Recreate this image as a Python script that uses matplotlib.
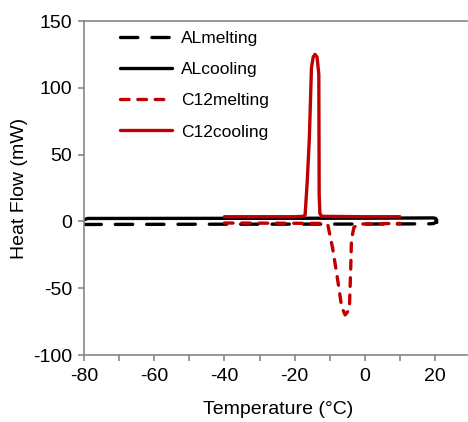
import numpy as np
import matplotlib.pyplot as plt
from matplotlib.ticker import MultipleLocator

plt.rcParams['font.family'] = ['Liberation Sans', 'DejaVu Sans']
plt.rcParams['axes.unicode_minus'] = False

# DSC curves
al_melt_x = [-80, -40, 0, 18.5, 19.6, 20.2, 20.5]
al_melt_y = [-2.3, -2.1, -2.0, -1.8, -1.6, -0.6, 1.0]

al_cool_x = [-80.4, -80.0, -79.0, 0, 19.5, 20.2, 20.5]
al_cool_y = [-0.8, 1.2, 2.2, 2.4, 2.6, 2.2, -0.8]

c12_melt_x = [-40, -12, -10.5, -9.1, -7.6, -6.6, -5.6, -4.4, -4.0, -3.8, -3.1, -1.9, 10]
c12_melt_y = [-1.2, -1.5, -3, -21, -46, -64, -70, -66, -34, -13.5, -4.5, -2, -1.5]

c12_cool_x = [-40, -20, -17.5, -17, -16.4, -15.8, -15.2, -14.7, -14.2, -13.6, -13.1,
              -13.0, -12.8, -12.3, 0, 10]
c12_cool_y = [3.5, 3.5, 3.8, 5, 30, 62, 115, 123, 125, 123, 110, 20, 6, 3.8, 3.5, 3.5]

red = '#C00000'
gray = '#868686'

fig = plt.figure(figsize=(4.68, 4.22), dpi=100)
ax = fig.add_axes([84/468, 67/422, 1 - 84/468, 334/422])

lw = 2.4
ax.plot(al_melt_x, al_melt_y, color='black', lw=lw, ls=(0, (5.2, 4.2)),
        dash_capstyle='round', label='ALmelting')
ax.plot(al_cool_x, al_cool_y, color='black', lw=lw, solid_capstyle='round',
        label='ALcooling')
ax.plot(c12_melt_x, c12_melt_y, color=red, lw=lw, ls=(0, (2.6, 2.6)),
        dash_capstyle='round', label='C12melting')
ax.plot(c12_cool_x, c12_cool_y, color=red, lw=lw, solid_capstyle='round',
        label='C12cooling')

ax.set_xlim(-80, 29.4)
ax.set_ylim(-100, 150)
ax.xaxis.set_major_locator(MultipleLocator(20))
ax.xaxis.set_minor_locator(MultipleLocator(10))
ax.yaxis.set_major_locator(MultipleLocator(50))

for s in ['left', 'bottom', 'top']:
    ax.spines[s].set_color(gray)
    ax.spines[s].set_linewidth(1.2)
ax.spines['right'].set_visible(False)

ax.tick_params(which='both', direction='out', length=4.5, width=1.2, color=gray,
               labelsize=14, labelcolor='black')
ax.tick_params(axis='x', pad=5)
ax.tick_params(axis='y', pad=4)

ax.set_xlabel('Temperature (°C)', fontsize=14, va='center')
ax.set_ylabel('Heat Flow (mW)', fontsize=14, va='center')
ax.xaxis.set_label_coords(0.5 + (278 - 276) / 384, (355 - 410) / 334)
ax.yaxis.set_label_coords((20 - 84) / 384, 0.5)

ax.legend(loc='upper left', bbox_to_anchor=(120/468, 1 - 31/422),
          bbox_transform=fig.transFigure, frameon=False, fontsize=12.5,
          handlelength=3.0, handletextpad=0.5, labelspacing=0.92,
          borderaxespad=0, borderpad=0)

fig.savefig('out.png', dpi=100)
